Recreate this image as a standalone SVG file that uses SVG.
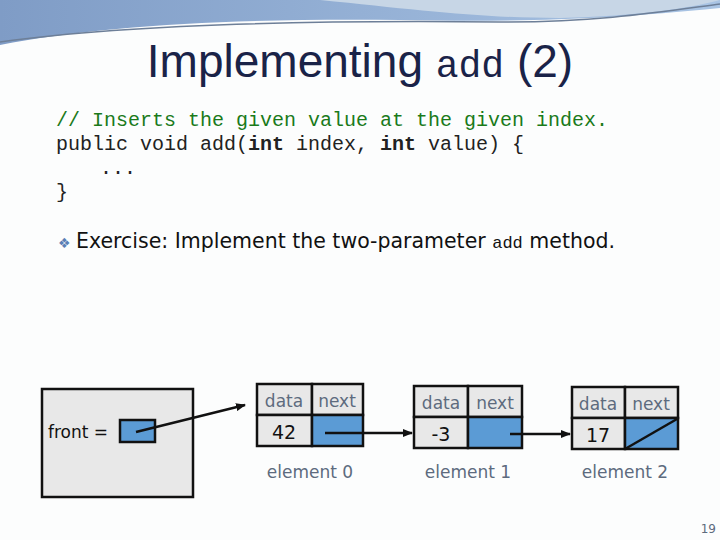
<svg xmlns="http://www.w3.org/2000/svg" width="720" height="540" viewBox="0 0 720 540">
<defs>
<style>
.code{font-family:"Liberation Mono",monospace;font-size:20px;fill:#222}
.lbl{font-family:"DejaVu Sans",sans-serif;fill:#5d6b7e;font-size:17px}
.cell{fill:#e8e8e8;stroke:#111;stroke-width:2.5}
.ptr{fill:#5b9bd5;stroke:#111;stroke-width:2.5}
.val{font-family:"DejaVu Sans",sans-serif;fill:#111;font-size:19px}
</style>
<marker id="ah" markerWidth="10" markerHeight="8" refX="9" refY="4" orient="auto" markerUnits="userSpaceOnUse"><path d="M0,0 L10,4 L0,8 Z" fill="#111"/></marker>
<linearGradient id="bg" x1="0" y1="0" x2="1" y2="0"><stop offset="0" stop-color="#7f9cc6"/><stop offset="1" stop-color="#a9c4e4"/></linearGradient>
</defs>
<rect width="720" height="540" fill="#fcfdfd"/>
<path d="M0,0 H720 V8 C600,20 520,22 400,20 C250,18 100,25 0,45 Z" fill="url(#bg)"/>
<path d="M320,0 C420,10 480,18 560,18 C640,16 690,8 720,0 Z" fill="#c7d6e6"/>
<path d="M0,42 C120,25 300,20 500,22 C600,22 660,12 720,4" fill="none" stroke="#6d7f98" stroke-width="1.5"/>
<text x="360" y="77" text-anchor="middle" font-family="Liberation Sans,sans-serif" font-size="46" fill="#1a2348">Implementing <tspan font-family="Liberation Mono,monospace" font-size="38">add</tspan> (2)</text>
<text x="56" y="126" class="code" style="fill:#1a7a1a">// Inserts the given value at the given index.</text>
<text x="56" y="150" class="code">public void add(<tspan font-weight="bold">int</tspan> index, <tspan font-weight="bold">int</tspan> value) {</text>
<text x="100" y="174" class="code">...</text>
<text x="56" y="198" class="code">}</text>
<text x="58" y="248" font-family="DejaVu Sans,sans-serif" font-size="14" fill="#5b7fb5">&#10070;</text>
<text x="76" y="248" font-family="DejaVu Sans,sans-serif" font-size="20.5" fill="#111">Exercise: Implement the two-parameter <tspan font-family="Liberation Mono,monospace" font-size="17">add</tspan> method.</text>
<g id="front">
<rect x="42" y="389" width="151" height="108" class="cell"/>
<text x="48" y="438" font-family="DejaVu Sans,sans-serif" font-size="17" fill="#111">front  =</text>
<rect x="120" y="420" width="35" height="22" class="ptr" stroke-width="1"/>
</g>
<g id="node0">
<rect x="257" y="384" width="55" height="31" class="cell"/><rect x="312" y="384" width="51" height="31" class="cell"/>
<rect x="257" y="415" width="55" height="31" class="cell"/><rect x="312" y="415" width="51" height="31" class="ptr"/>
<text x="284" y="407" text-anchor="middle" class="lbl">data</text><text x="337" y="407" text-anchor="middle" class="lbl">next</text>
<text x="284" y="439" text-anchor="middle" class="val">42</text>
<text x="310" y="478" text-anchor="middle" class="lbl" font-size="16">element 0</text>
</g>
<g id="node1">
<rect x="414" y="386" width="54" height="31" class="cell"/><rect x="468" y="386" width="54" height="31" class="cell"/>
<rect x="414" y="417" width="54" height="31" class="cell"/><rect x="468" y="417" width="54" height="31" class="ptr"/>
<text x="441" y="409" text-anchor="middle" class="lbl">data</text><text x="495" y="409" text-anchor="middle" class="lbl">next</text>
<text x="441" y="441" text-anchor="middle" class="val">-3</text>
<text x="468" y="478" text-anchor="middle" class="lbl" font-size="16">element 1</text>
</g>
<g id="node2">
<rect x="572" y="387" width="53" height="31" class="cell"/><rect x="625" y="387" width="53" height="31" class="cell"/>
<rect x="572" y="418" width="53" height="31" class="cell"/><rect x="625" y="418" width="53" height="31" class="ptr"/>
<line x1="625" y1="449" x2="677" y2="419" stroke="#111" stroke-width="2.5"/>
<text x="598" y="410" text-anchor="middle" class="lbl">data</text><text x="651" y="410" text-anchor="middle" class="lbl">next</text>
<text x="598" y="442" text-anchor="middle" class="val">17</text>
<text x="625" y="478" text-anchor="middle" class="lbl" font-size="16">element 2</text>
</g>
<g id="connectors" stroke="#111" stroke-width="2.5" fill="none">
<line x1="136" y1="432" x2="245" y2="405" marker-end="url(#ah)"/>
<line x1="325" y1="433" x2="412" y2="433" marker-end="url(#ah)"/>
<line x1="510" y1="434" x2="570" y2="434" marker-end="url(#ah)"/>
</g>
<text x="716" y="533" text-anchor="end" font-family="DejaVu Sans,sans-serif" font-size="12" fill="#5d6b7e">19</text>
</svg>
